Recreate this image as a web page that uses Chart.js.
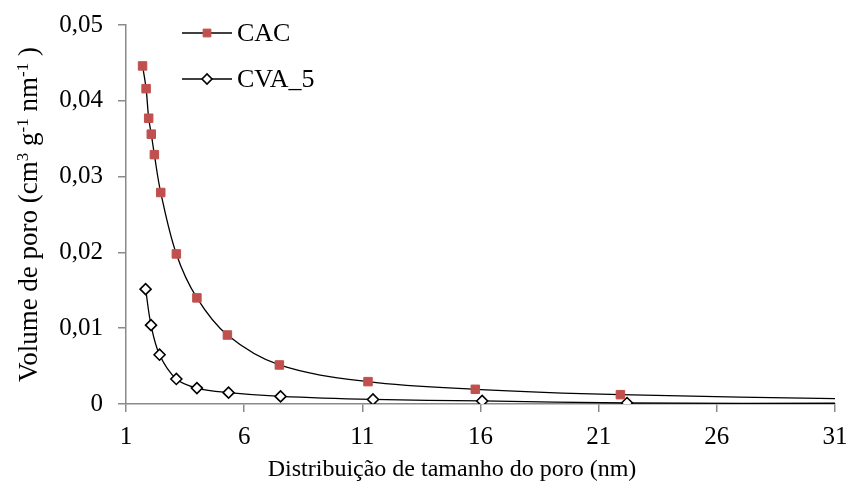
<!DOCTYPE html>
<html lang="pt">
  <head>
    <meta charset="UTF-8" />
    <title>Distribuição de tamanho do poro</title>
    <script src="https://cdn.jsdelivr.net/npm/chart.js"></script>
    <style>
      html, body { margin: 0; padding: 0; background: #fff; }
      #wrap { width: 847px; height: 488px; }
    </style>
  </head>
  <body>
    <div id="wrap"><canvas id="poreChart"></canvas></div>

    <script>
      // Data (pore size in nm, pore volume in cm3 g-1 nm-1)
      const cacSize = [1.70, 1.85, 1.96, 2.07, 2.20, 2.47, 3.13, 4.00, 5.29, 7.49, 11.24, 15.78, 21.92, 32.0];
      const cacVolume = [0.0446, 0.0416, 0.0377, 0.0356, 0.0329, 0.0279, 0.0198, 0.0140, 0.0091, 0.00515, 0.00295, 0.00194, 0.00123, 0.00065];
      const cvaSize = [1.83, 2.06, 2.42, 3.13, 4.00, 5.34, 7.54, 11.45, 16.07, 22.2, 32.0];
      const cvaVolume = [0.01515, 0.0104, 0.0065, 0.0033, 0.0021, 0.0015, 0.0010, 0.0006, 0.0004, 0.00013, 0.0001];
      const seriesNames = ["CAC", "CVA_5"];
      const xTitle = "Distribuição de tamanho do poro (nm)";
      // y title pieces: [text, superscript?]
      const yTitleParts = [["Volume de poro (cm", false], ["3", true], [" g", false], ["-1", true], [" nm", false], ["-1", true], [" )", false]];

      const FONT = "'Liberation Serif', 'Times New Roman', serif";
      const AXIS_GREY = "#8a8a8a";

      const toPoints = (xs, ys) => xs.map((x, i) => ({ x: x, y: ys[i] }));

      // axis titles (y title needs real superscripts) + legend inside the plot
      const extras = {
        id: "extras",
        afterDraw(chart) {
          const ctx = chart.ctx;
          const area = chart.chartArea;

          // x title
          ctx.save();
          ctx.fillStyle = "#000";
          ctx.font = "24px " + FONT;
          ctx.textAlign = "center";
          ctx.textBaseline = "alphabetic";
          ctx.fillText(xTitle, 452, 476);
          ctx.restore();

          // y title, rotated, with superscripts
          ctx.save();
          const big = "27px " + FONT;
          const small = "17px " + FONT;
          let total = 0;
          yTitleParts.forEach(([t, sup]) => {
            ctx.font = sup ? small : big;
            total += ctx.measureText(t).width;
          });
          ctx.translate(37, (area.top + area.bottom) / 2);
          ctx.rotate(-Math.PI / 2);
          ctx.fillStyle = "#000";
          ctx.textBaseline = "alphabetic";
          let x = -total / 2;
          yTitleParts.forEach(([t, sup]) => {
            ctx.font = sup ? small : big;
            ctx.fillText(t, x, sup ? -9 : 0);
            x += ctx.measureText(t).width;
          });
          ctx.restore();

          // legend
          const rows = [33, 79];
          chart.data.datasets.forEach((ds, i) => {
            const y = rows[i];
            ctx.save();
            ctx.strokeStyle = ds.borderColor;
            ctx.lineWidth = ds.borderWidth;
            ctx.beginPath();
            ctx.moveTo(182, y);
            ctx.lineTo(232, y);
            ctx.stroke();
            ctx.fillStyle = ds.pointBackgroundColor;
            ctx.strokeStyle = ds.pointBorderColor;
            ctx.lineWidth = ds.pointBorderWidth;
            Chart.helpers.drawPoint(ctx, {
              pointStyle: ds.pointStyle,
              radius: ds.pointRadius - 0.5,
              borderWidth: ds.pointBorderWidth,
            }, 207, y);
            ctx.fillStyle = "#000";
            ctx.font = "26px " + FONT;
            ctx.textBaseline = "middle";
            ctx.fillText(ds.label, 237, y + 1);
            ctx.restore();
          });
        },
      };

      new Chart(document.getElementById("poreChart"), {
        type: "scatter",
        data: {
          datasets: [
            {
              label: seriesNames[0],
              data: toPoints(cacSize, cacVolume),
              showLine: true,
              tension: 0.35,
              borderColor: "#000",
              borderWidth: 1.3,
              pointStyle: "rect",
              pointRadius: 6,
              pointBackgroundColor: "#c0504d",
              pointBorderColor: "#c0504d",
              pointBorderWidth: 1,
            },
            {
              label: seriesNames[1],
              data: toPoints(cvaSize, cvaVolume),
              showLine: true,
              tension: 0.35,
              borderColor: "#000",
              borderWidth: 1.3,
              pointStyle: "rectRot",
              pointRadius: 5.5,
              pointBackgroundColor: "#fff",
              pointBorderColor: "#000",
              pointBorderWidth: 1.6,
            },
          ],
        },
        options: {
          responsive: true,
          maintainAspectRatio: false,
          animation: false,
          layout: { padding: { top: 25, right: 0, left: 0, bottom: 0 } },
          plugins: {
            legend: { display: false },
            tooltip: { enabled: false },
          },
          scales: {
            x: {
              type: "linear",
              min: 1,
              max: 31,
              ticks: {
                stepSize: 5,
                color: "#000",
                padding: 10,
                maxRotation: 0,
                font: { family: FONT, size: 25 },
              },
              grid: { drawOnChartArea: false, tickLength: 8, color: AXIS_GREY, lineWidth: 1.5 },
              border: { color: AXIS_GREY, width: 1.5 },
              afterFit(scale) {
                scale.height = 84;
                scale.paddingRight = 12;
                scale.paddingLeft = 0;
              },
            },
            y: {
              min: 0,
              max: 0.05,
              ticks: {
                stepSize: 0.01,
                color: "#000",
                padding: 15,
                font: { family: FONT, size: 25 },
                callback: (v) => (v === 0 ? "0" : v.toFixed(2).replace(".", ",")),
              },
              grid: { drawOnChartArea: false, tickLength: 8, color: AXIS_GREY, lineWidth: 1.5 },
              border: { color: AXIS_GREY, width: 1.5 },
              afterFit(scale) {
                scale.width = 126;
                scale.paddingTop = 0;
                scale.paddingBottom = 0;
              },
            },
          },
        },
        plugins: [extras],
      });
    </script>
  </body>
</html>
